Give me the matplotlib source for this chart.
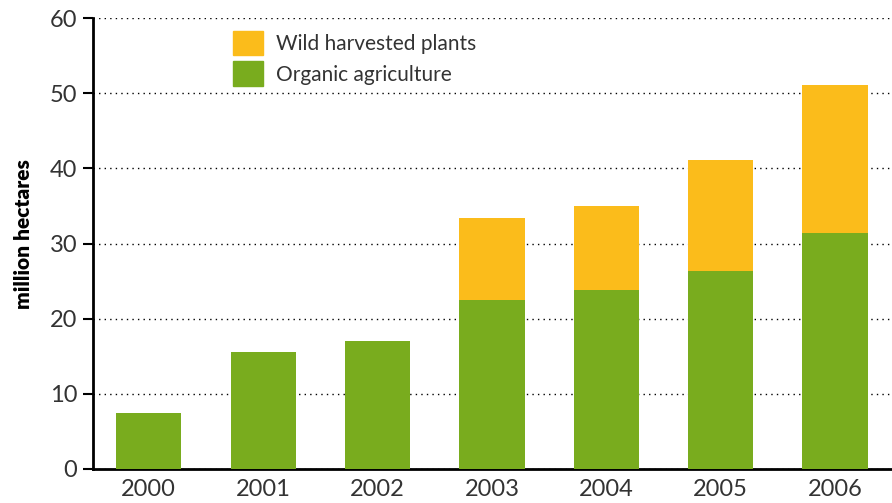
import matplotlib
matplotlib.use('Agg')
import matplotlib.pyplot as plt
from matplotlib.patches import Patch
import numpy as np

# data (million hectares)
years = ['2000', '2001', '2002', '2003', '2004', '2005', '2006']
organic = [7.5, 15.5, 17.0, 22.5, 23.8, 26.3, 31.4]
total = [7.5, 15.5, 17.0, 33.4, 35.0, 41.1, 51.1]
wild = [t - o for t, o in zip(total, organic)]
yticks = [0, 10, 20, 30, 40, 50, 60]

green = '#79AC1E'
orange = '#FBBC1B'

plt.rcParams['font.family'] = ['Lato', 'DejaVu Sans']

fig = plt.figure(figsize=(8.92, 5.03), dpi=100)
ax = fig.add_axes([0.104, 0.0676, 0.895, 0.8966])

x = np.arange(len(years))
ax.bar(x, organic, width=0.57, color=green, zorder=3)
ax.bar(x, wild, width=0.57, bottom=organic, color=orange, zorder=3)

ax.set_xlim(-0.49, 6.49)
ax.set_ylim(0, 60)
ax.set_yticks(yticks)
ax.set_xticks(x)
ax.set_xticklabels(years)
ax.grid(axis='y', linestyle=(0, (1, 3)), color='black', linewidth=1, zorder=0)

for s in ['top', 'right']:
    ax.spines[s].set_visible(False)
ax.spines['left'].set_linewidth(2)
ax.spines['bottom'].set_linewidth(2)
ax.tick_params(axis='y', length=7, width=1.5, color='black', labelsize=17,
               labelcolor='#333333', pad=4)
ax.tick_params(axis='x', length=0, labelsize=17, labelcolor='#333333', pad=7)

ax.set_ylabel('million hectares', fontsize=15, fontweight='heavy')
ax.yaxis.set_label_coords(-0.075, 0.52)

handles = [Patch(color=orange, label='Wild harvested plants'),
           Patch(color=green, label='Organic agriculture')]
leg = ax.legend(handles=handles, loc='upper left', bbox_to_anchor=(0.16, 1.0),
                frameon=False, fontsize=15, handlelength=1.45, handleheight=1.45,
                handletextpad=0.6, labelspacing=0.3, borderaxespad=0.2)
for t in leg.get_texts():
    t.set_color('#333333')

fig.savefig('out.png', dpi=100)
